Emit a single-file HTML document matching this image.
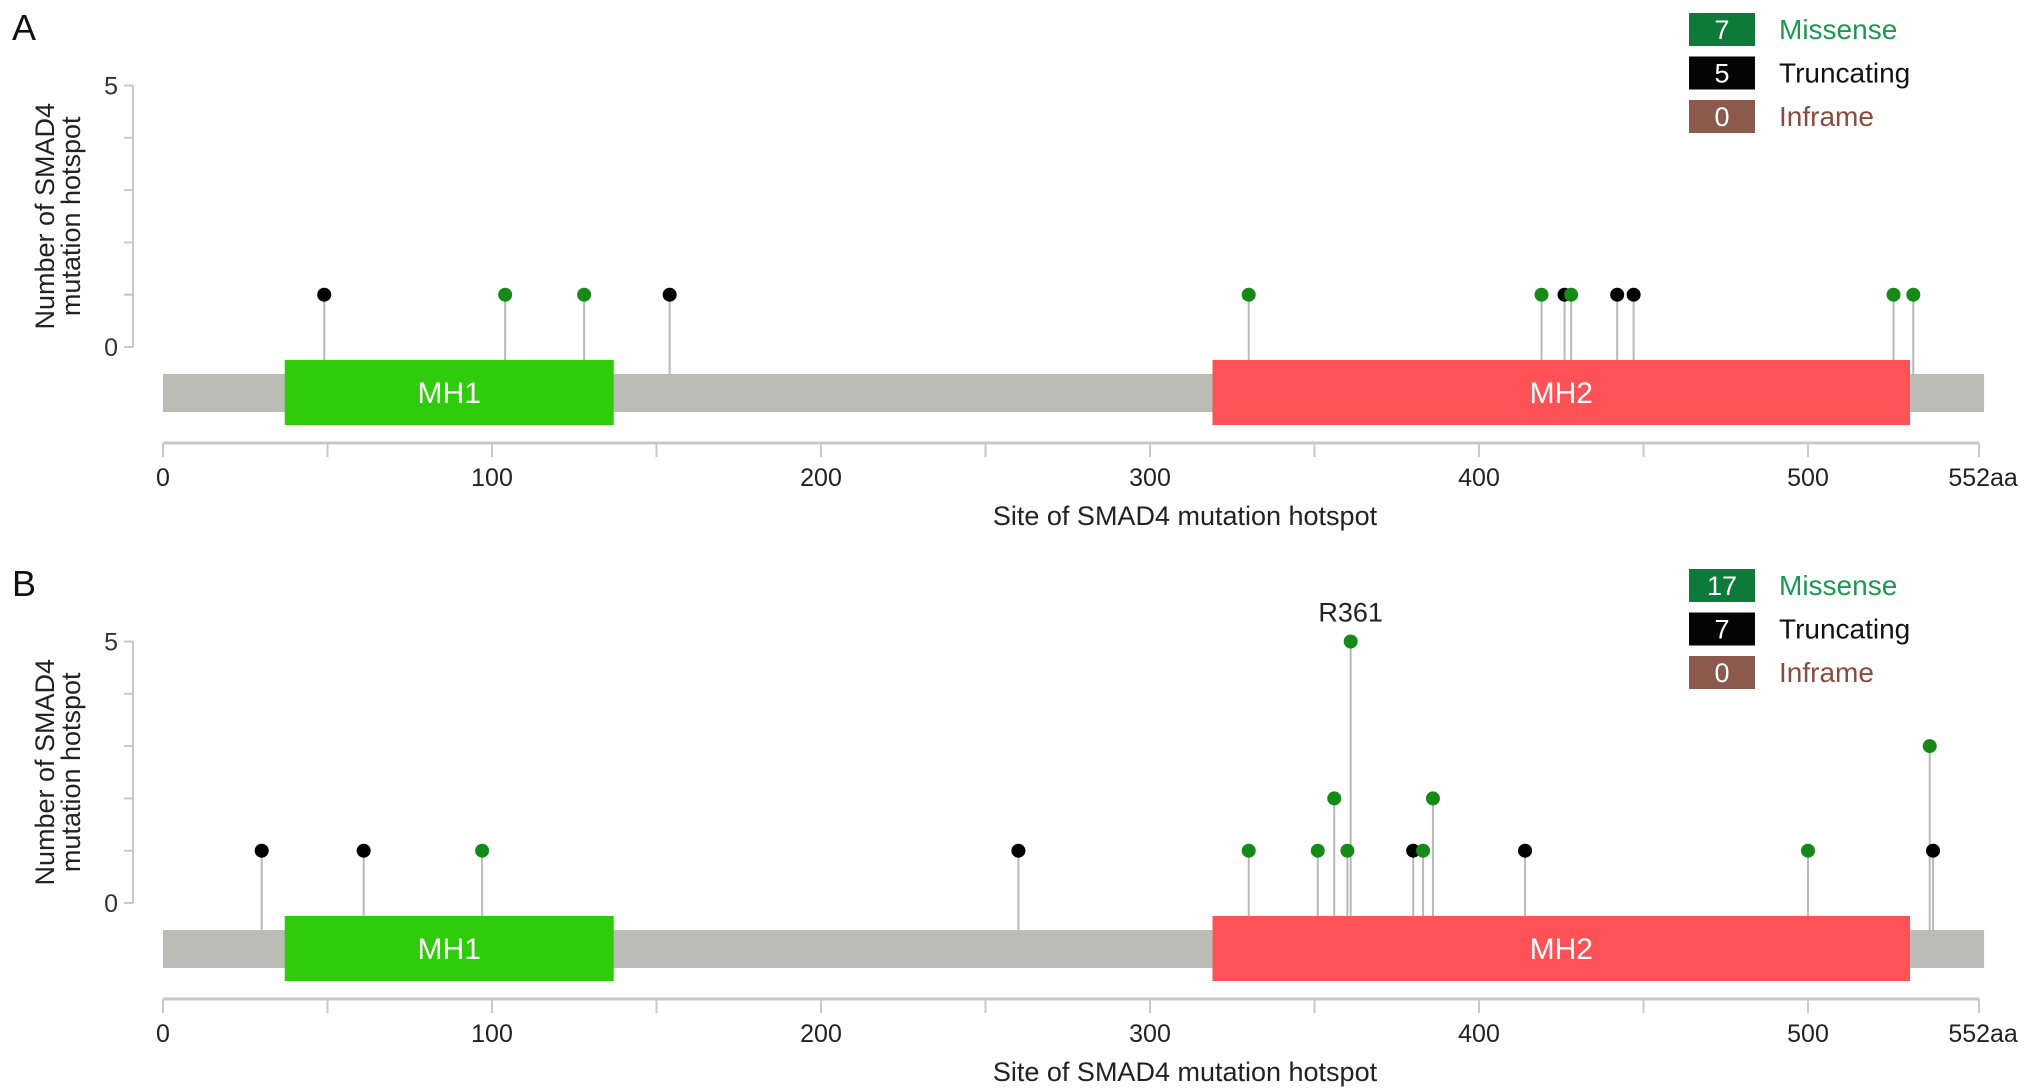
<!DOCTYPE html>
<html><head><meta charset="utf-8"><style>
html,body{margin:0;padding:0;background:#fff;}
svg{display:block;font-family:"Liberation Sans",Arial,sans-serif;}
</style></head><body>
<svg id="chart" width="2031" height="1092" viewBox="0 0 2031 1092" xmlns="http://www.w3.org/2000/svg"></svg>
<script>
// Panel A data
const aPositions = [49,154,426,442,447, 104,128,330,419,428,526,532];
const aCounts    = [1,1,1,1,1, 1,1,1,1,1,1,1];
const aTypes     = ['T','T','T','T','T','M','M','M','M','M','M','M'];
const aLegendCounts = [7,5,0];
// Panel B data
const bPositions = [30,61,260,380,414,538, 97,330,351,356,360,361,383,386,500,537];
const bCounts    = [1,1,1,1,1,1, 1,1,1,2,1,5,1,2,1,3];
const bTypes     = ['T','T','T','T','T','T','M','M','M','M','M','M','M','M','M','M'];
const bLegendCounts = [17,7,0];
const legendLabels = ['Missense','Truncating','Inframe'];
const domainNames = ['MH1','MH2'];
const domainStarts = [37,319];
const domainEnds = [137,531];
const xTickValues = [0,100,200,300,400,500];
const xMinorTicks = [50,150,250,350,450];
const proteinLength = 552;
const yMax = 5;

const svg = document.getElementById('chart');
const NS = 'http://www.w3.org/2000/svg';
function mk(tag, attrs, parent){ const e=document.createElementNS(NS,tag); for(const k in attrs) e.setAttribute(k,attrs[k]); (parent||svg).appendChild(e); return e; }
const x = aa => 163 + aa*3.29;

function panel(letter, off, pos, cnt, typ, legCounts, annot){
  const g = mk('g',{});
  
  
  const y = v => off + 347 - v*52.3;
  let t = mk('text',{x:12,y:off+40,'font-size':36,fill:'#111'},g); t.textContent=letter;
   
  let ya = mk('g',{},g);
   
  mk('line',{x1:133,x2:133,y1:y(yMax),y2:y(0),stroke:'#c8c8c8','stroke-width':2},ya);
  for(let v=0;v<=yMax;v++) mk('line',{x1:124,x2:133,y1:y(v),y2:y(v),stroke:'#c8c8c8','stroke-width':2},ya);
  [0,yMax].forEach(v=>{ const tt=mk('text',{x:118,y:y(v)+9,'font-size':25,'text-anchor':'end',fill:'#333'},ya); tt.textContent=v; });
  const yt = mk('text',{transform:`translate(54,${y(2.5)}) rotate(-90)`,'font-size':27,'text-anchor':'middle',fill:'#222'},g);
   
  const s1=mk('tspan',{x:0,dy:0},yt); s1.textContent='Number of SMAD4';
  const s2=mk('tspan',{x:0,dy:26},yt); s2.textContent='mutation hotspot';
  const bb=mk('rect',{x:x(0),y:off+374,width:x(proteinLength)-x(0)+5,height:38,fill:'#bcbcb6'},g);
   
  pos.forEach((p,i)=>{ const st=mk('line',{x1:x(p),x2:x(p),y1:y(cnt[i]),y2:off+380,stroke:'#b8b8b8','stroke-width':2},g);
      });
  domainNames.forEach((n,i)=>{
    const r=mk('rect',{x:x(domainStarts[i]),y:off+360,width:x(domainEnds[i])-x(domainStarts[i]),height:65,fill:i==0?'#2ecc0a':'#fe5256'},g);
     
    const tx=mk('text',{x:(x(domainStarts[i])+x(domainEnds[i]))/2,y:off+403,'font-size':30,'text-anchor':'middle',fill:'#fff'},g);
    tx.textContent=n;
     
  });
  pos.forEach((p,i)=>{ const c=mk('circle',{cx:x(p),cy:y(cnt[i]),r:7,fill:typ[i]=='M'?'#168a16':'#000'},g);
      });
  if(annot){ const at=mk('text',{x:x(annot[0]),y:y(annot[1])-20,'font-size':27,'text-anchor':'middle',fill:'#222'},g); at.textContent=annot[2];
      }
  const xa=mk('g',{},g);
   
  mk('line',{x1:x(0),x2:x(proteinLength),y1:off+443,y2:off+443,stroke:'#c8c8c8','stroke-width':3},xa);
  xTickValues.concat(xMinorTicks,[proteinLength]).forEach(v=>mk('line',{x1:x(v),x2:x(v),y1:off+443,y2:off+457,stroke:'#c8c8c8','stroke-width':2},xa));
  xTickValues.forEach(v=>{ const tt=mk('text',{x:x(v),y:off+486,'font-size':25,'text-anchor':'middle',fill:'#222'},xa); tt.textContent=v; });
  const le=mk('text',{x:x(proteinLength)+4,y:off+486,'font-size':25,'text-anchor':'middle',fill:'#222'},xa); le.textContent=proteinLength+'aa';
  const xt=mk('text',{x:1185,y:off+525,'font-size':27,'text-anchor':'middle',fill:'#222'},g); xt.textContent='Site of SMAD4 mutation hotspot';
   
  const boxC=['#0d7a3a','#050505','#8c5a4c'], txtC=['#1a9a50','#111','#8c4a3c'];
  legendLabels.forEach((l,i)=>{
    const lg=mk('g',{},g);
     
    const yy=off+13+i*43.5;
    mk('rect',{x:1689,y:yy,width:66,height:33,fill:boxC[i]},lg);
    const c=mk('text',{x:1722,y:yy+26,'font-size':27,'text-anchor':'middle',fill:'#fff'},lg); c.textContent=legCounts[i];
    const tx=mk('text',{x:1779,y:yy+26,'font-size':28,fill:txtC[i]},lg); tx.textContent=l;
  });
}
panel('A',0,aPositions,aCounts,aTypes,aLegendCounts,null);
panel('B',556,bPositions,bCounts,bTypes,bLegendCounts,[361,5,'R361']);
</script>
</body></html>
